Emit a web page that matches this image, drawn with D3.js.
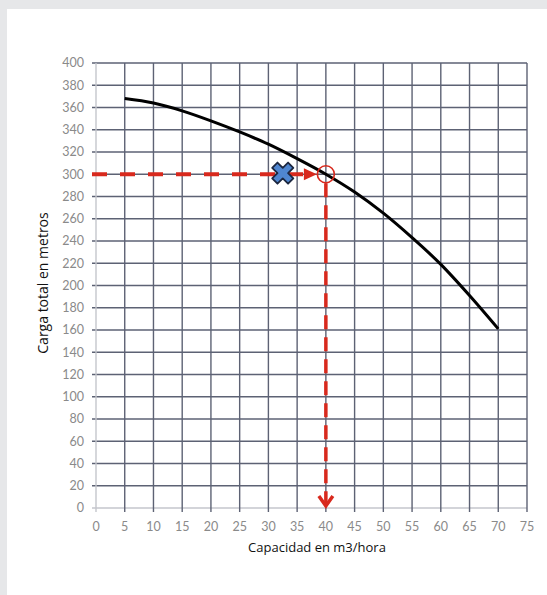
<!DOCTYPE html>
<html>
<head>
<meta charset="utf-8">
<script src="https://cdn.jsdelivr.net/npm/d3@7"></script>
<style>
  body { margin: 0; background: #e6e7e9; }
  svg { display: block; }
</style>
</head>
<body>
<svg id="chart" width="547" height="595"></svg>
<script>
// Pump curve values
var capacidad = [5, 10, 15, 20, 25, 30, 35, 40, 45, 50, 55, 60, 65, 70];
var carga = [368, 364, 357, 348, 338, 327, 314, 300, 284, 265, 243, 219, 191, 161];

// Tick labels
var xTicks = [0, 5, 10, 15, 20, 25, 30, 35, 40, 45, 50, 55, 60, 65, 70, 75];
var yTicks = [0, 20, 40, 60, 80, 100, 120, 140, 160, 180, 200, 220, 240, 260, 280, 300, 320, 340, 360, 380, 400];

// Operating point and the blue marker
var puntoOperacion = [40, 300];
var marcador = [32.5, 301];

//Colours
var gridColour = "#5d6274";
var red = "#d8291d";
var blue = "#4f86d0";

var svg = d3.select("#chart");

// white sheet over the grey background
svg.append("rect")
    .attr("x", 7)
    .attr("y", 9)
    .attr("width", 540)
    .attr("height", 586)
    .attr("fill", "#ffffff");

var xScale = d3.scaleLinear().domain([0, 75]).range([96, 527]);
var yScale = d3.scaleLinear().domain([0, 400]).range([508, 63]);

// horizontal gridlines (with small tick to the left)
svg.append("g")
    .selectAll("line")
    .data(yTicks)
    .enter()
    .append("line")
    .attr("x1", xScale(0) - 4)
    .attr("x2", xScale(75))
    .attr("y1", d => yScale(d))
    .attr("y2", d => yScale(d))
    .attr("stroke", d => d === 0 ? "#c4c6cc" : gridColour)
    .attr("stroke-width", 1.4);

// vertical gridlines (extending a bit below the 0 line)
svg.append("g")
    .selectAll("line")
    .data(xTicks)
    .enter()
    .append("line")
    .attr("x1", d => xScale(d))
    .attr("x2", d => xScale(d))
    .attr("y1", yScale(400))
    .attr("y2", yScale(0) + 4)
    .attr("stroke", d => d === 0 ? "#c4c6cc" : gridColour)
    .attr("stroke-width", 1.4);

// tick labels
svg.append("g")
    .selectAll("text")
    .data(yTicks)
    .enter()
    .append("text")
    .attr("x", xScale(0) - 12)
    .attr("y", d => yScale(d))
    .attr("dy", "0.35em")
    .attr("text-anchor", "end")
    .style("font-family", "Lato, 'Open Sans', sans-serif")
    .style("font-size", "12.5px")
    .attr("fill", "#8a8a8a")
    .text(d => d);

svg.append("g")
    .selectAll("text")
    .data(xTicks)
    .enter()
    .append("text")
    .attr("x", d => xScale(d))
    .attr("y", yScale(0) + 23)
    .attr("text-anchor", "middle")
    .style("font-family", "Lato, 'Open Sans', sans-serif")
    .style("font-size", "12.5px")
    .attr("fill", "#8a8a8a")
    .text(d => d);

// axis titles
svg.append("text")
    .attr("x", 317)
    .attr("y", 552)
    .attr("text-anchor", "middle")
    .style("font-family", "'Open Sans', sans-serif")
    .style("font-size", "13px")
    .attr("fill", "#111")
    .text("Capacidad en m3/hora");

svg.append("text")
    .attr("transform", "translate(48," + 283 + ") rotate(-90)")
    .attr("text-anchor", "middle")
    .style("font-family", "'Open Sans', sans-serif")
    .style("font-size", "14px")
    .attr("fill", "#111")
    .text("Carga total en metros");

// pump curve
var curva = capacidad.map((c, i) => [c, carga[i]]);
var line = d3.line()
    .x(d => xScale(d[0]))
    .y(d => yScale(d[1]))
    .curve(d3.curveMonotoneX);

svg.append("path")
    .datum(curva)
    .attr("d", line)
    .attr("fill", "none")
    .attr("stroke", "#000")
    .attr("stroke-width", 3);

// red dashed guide lines
var px = xScale(puntoOperacion[0]);
var py = yScale(puntoOperacion[1]);

svg.append("line")
    .attr("x1", xScale(0) - 4)
    .attr("x2", px - 14)
    .attr("y1", py)
    .attr("y2", py)
    .attr("stroke", red)
    .attr("stroke-width", 4)
    .attr("stroke-dasharray", "15,13");

// arrow head pointing right
svg.append("path")
    .attr("d", "M" + (px - 22) + "," + (py - 6) + "L" + (px - 9) + "," + py + "L" + (px - 22) + "," + (py + 6) + "Z")
    .attr("fill", red);

svg.append("line")
    .attr("x1", px)
    .attr("x2", px)
    .attr("y1", py + 9)
    .attr("y2", yScale(0) - 4)
    .attr("stroke", red)
    .attr("stroke-width", 3.5)
    .attr("stroke-dasharray", "14,8");

// arrow head pointing down
svg.append("path")
    .attr("d", "M" + (px - 7) + "," + (yScale(0) - 12) + "L" + px + "," + (yScale(0) - 2) + "L" + (px + 7) + "," + (yScale(0) - 12))
    .attr("fill", "none")
    .attr("stroke", red)
    .attr("stroke-width", 3.5);

// circle at operating point
svg.append("circle")
    .attr("cx", px)
    .attr("cy", py)
    .attr("r", 8.5)
    .attr("fill", "none")
    .attr("stroke", red)
    .attr("stroke-width", 1.6);

// blue X marker
var cross = d3.symbol().type(d3.symbolCross).size(280);
svg.append("path")
    .attr("d", cross())
    .attr("transform", "translate(" + xScale(marcador[0]) + "," + yScale(marcador[1]) + ") rotate(45)")
    .attr("fill", blue)
    .attr("stroke", "#1c2740")
    .attr("stroke-width", 1.8)
    .attr("stroke-linejoin", "round");
</script>
</body>
</html>
